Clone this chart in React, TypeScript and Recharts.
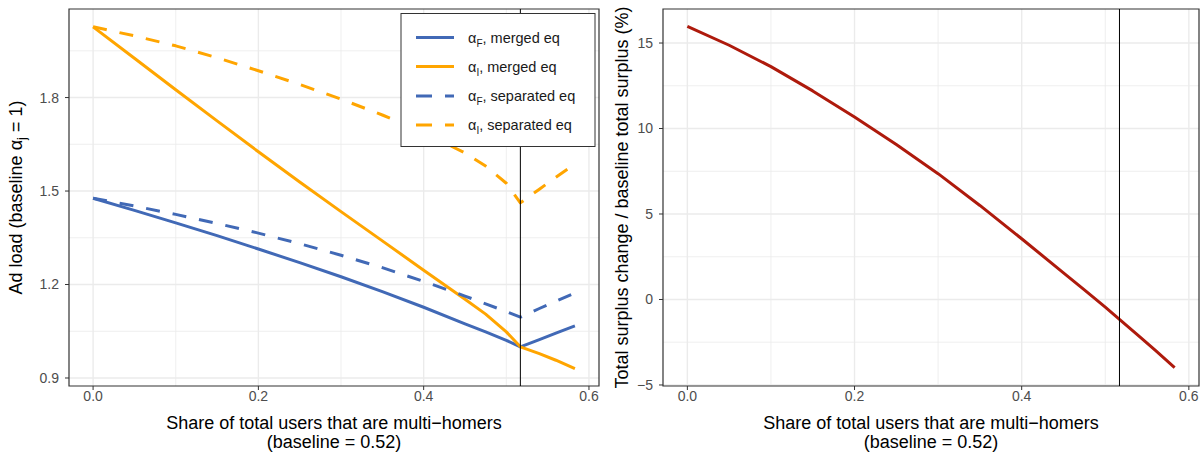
import React from "react";
import {
  LineChart,
  Line,
  XAxis,
  YAxis,
  CartesianGrid,
  ReferenceLine,
  ReferenceArea,
} from "recharts";

// Share of total users that are multi-homers
const shares = [0, 0.05, 0.1, 0.15, 0.2, 0.25, 0.3, 0.35, 0.4, 0.45, 0.475, 0.5, 0.517, 0.54, 0.56, 0.583];
const baselineShare = 0.517;

// Ad loads relative to baseline
const alphaFMerged = [1.477, 1.438, 1.398, 1.357, 1.314, 1.27, 1.225, 1.177, 1.127, 1.074, 1.048, 1.021, 1.0, 1.023, 1.044, 1.067];
const alphaIMerged = [2.027, 1.926, 1.825, 1.725, 1.626, 1.529, 1.434, 1.34, 1.246, 1.153, 1.105, 1.048, 1.0, 0.978, 0.957, 0.93];
const alphaFSeparated = [1.477, 1.452, 1.425, 1.396, 1.365, 1.331, 1.294, 1.254, 1.21, 1.163, 1.138, 1.113, 1.095, 1.123, 1.146, 1.173];
const alphaISeparated = [2.027, 1.998, 1.966, 1.928, 1.886, 1.842, 1.795, 1.744, 1.688, 1.622, 1.58, 1.525, 1.462, 1.506, 1.544, 1.587];

// Total surplus change relative to baseline total surplus (%)
const surplusChange = [15.97, 14.87, 13.62, 12.2, 10.67, 9.06, 7.36, 5.5, 3.55, 1.56, 0.56, -0.45, -1.16, -2.13, -2.98, -3.98];

// Axis ticks
const xTicks = [0, 0.2, 0.4, 0.6];
const xMinor = [0.1, 0.3, 0.5];
const adTicks = [0.9, 1.2, 1.5, 1.8];
const adMinor = [1.05, 1.35, 1.65, 1.95];
const surplusTicks = [-5, 0, 5, 10, 15];
const surplusMinor = [-2.5, 2.5, 7.5, 12.5];

// Legend entries
const seriesSubs = ["F", "I", "F", "I"];
const seriesLabels = [", merged eq", ", merged eq", ", separated eq", ", separated eq"];
const seriesKeys = ["aFm", "aIm", "aFs", "aIs"];

const BLUE = "#4169B6";
const ORANGE = "#FFA500";
const RED = "#AE1A0C";
const seriesColors = [BLUE, ORANGE, BLUE, ORANGE];
const seriesDashed = [false, false, true, true];
const DASH = "14 13";

const FONT = "'Liberation Sans', Arial, Helvetica, sans-serif";
const TICK_COLOR = "#4D4D4D";
const GRID = "#EBEBEB";
const BORDER = "#333333";

const adData = shares.map((x, i) => ({
  x,
  aFm: alphaFMerged[i],
  aIm: alphaIMerged[i],
  aFs: alphaFSeparated[i],
  aIs: alphaISeparated[i],
}));
const surplusData = shares.map((x, i) => ({ x, s: surplusChange[i] }));

const xDomain: [number, number] = [-0.02915, 0.61215];
const adDomain: [number, number] = [0.8743, 2.0842];
const surplusDomain: [number, number] = [-5.06, 16.99];

const fmt1 = (v: number) => v.toFixed(1);
const fmtInt = (v: number) => (v < 0 ? "\u2212" + Math.abs(v) : String(v));

const tickStyle = { fill: TICK_COLOR, fontSize: 14, fontFamily: FONT };

function XTitle({ cx }: { cx: number }) {
  return (
    <g fontFamily={FONT} fontSize={18} fill="#000" textAnchor="middle">
      <text x={cx} y={428.5}>Share of total users that are multi{"\u2212"}homers</text>
      <text x={cx} y={448}>(baseline = 0.52)</text>
    </g>
  );
}

function Legend() {
  const rows = [27.5, 56.5, 86, 115];
  return (
    <svg
      width={200}
      height={140}
      style={{ position: "absolute", left: 398, top: 10, overflow: "visible" }}
    >
      <rect x={3} y={3.5} width={194} height={133} fill="#fff" stroke={BORDER} strokeWidth={1} />
      {rows.map((ry, i) => (
        <g key={seriesKeys[i]}>
          <line
            x1={18}
            x2={56}
            y1={ry}
            y2={ry}
            stroke={seriesColors[i]}
            strokeWidth={3}
            strokeDasharray={seriesDashed[i] ? "16 13" : undefined}
          />
          <text x={70} y={ry + 5} fontFamily={FONT} fontSize={14.5} fill="#1A1A1A">
            α
            <tspan dy={4} fontSize={10}>{seriesSubs[i]}</tspan>
            <tspan dy={-4}>{seriesLabels[i]}</tspan>
          </text>
        </g>
      ))}
    </svg>
  );
}

export default function App() {
  return (
    <div
      style={{
        position: "absolute",
        left: 0,
        top: 0,
        width: 1203,
        height: 455,
        background: "#fff",
        overflow: "hidden",
      }}
    >
      {/* Left panel: ad loads */}
      <div style={{ position: "absolute", left: 0, top: 0 }}>
        <LineChart
          width={610}
          height={455}
          data={adData}
          margin={{ top: 9, right: 11, bottom: 0, left: 29 }}
        >
          <CartesianGrid
            stroke={GRID}
            strokeWidth={0.8}
            horizontalValues={adMinor}
            verticalValues={xMinor}
          />
          <CartesianGrid
            stroke={GRID}
            strokeWidth={1.4}
            horizontalValues={adTicks}
            verticalValues={xTicks}
          />
          <XAxis
            dataKey="x"
            type="number"
            domain={xDomain}
            allowDataOverflow
            ticks={xTicks}
            tickFormatter={fmt1}
            axisLine={false}
            tickLine={{ stroke: BORDER }}
            tickSize={4}
            tickMargin={1}
            height={69}
            tick={tickStyle}
            interval={0}
          />
          <YAxis
            type="number"
            domain={adDomain}
            allowDataOverflow
            ticks={adTicks}
            tickFormatter={fmt1}
            axisLine={false}
            tickLine={{ stroke: BORDER }}
            tickSize={4}
            tickMargin={6}
            width={40}
            tick={tickStyle}
            interval={0}
          />
          {seriesKeys.map((k, i) => (
            <Line
              key={k}
              dataKey={k}
              type="linear"
              stroke={seriesColors[i]}
              strokeWidth={3}
              strokeDasharray={seriesDashed[i] ? DASH : undefined}
              strokeLinejoin="round"
              dot={false}
              activeDot={false}
              isAnimationActive={false}
            />
          ))}
          <ReferenceLine x={baselineShare} stroke="#000" strokeWidth={1} />
          <ReferenceArea
            x1={xDomain[0]}
            x2={xDomain[1]}
            y1={adDomain[0]}
            y2={adDomain[1]}
            fill="none"
            stroke={BORDER}
            strokeWidth={1.2}
          />
          <XTitle cx={334} />
          <text
            transform="translate(22,197.5) rotate(-90)"
            textAnchor="middle"
            fontFamily={FONT}
            fontSize={18}
            fill="#000"
          >
            Ad load (baseline α
            <tspan dy={4} fontSize={13}>j</tspan>
            <tspan dy={-4}> = 1)</tspan>
          </text>
        </LineChart>
      </div>
      <Legend />

      {/* Right panel: total surplus */}
      <div style={{ position: "absolute", left: 605, top: 0 }}>
        <LineChart
          width={598}
          height={455}
          data={surplusData}
          margin={{ top: 9, right: 4, bottom: 0, left: 18 }}
        >
          <CartesianGrid
            stroke={GRID}
            strokeWidth={0.8}
            horizontalValues={surplusMinor}
            verticalValues={xMinor}
          />
          <CartesianGrid
            stroke={GRID}
            strokeWidth={1.4}
            horizontalValues={surplusTicks}
            verticalValues={xTicks}
          />
          <XAxis
            dataKey="x"
            type="number"
            domain={xDomain}
            allowDataOverflow
            ticks={xTicks}
            tickFormatter={fmt1}
            axisLine={false}
            tickLine={{ stroke: BORDER }}
            tickSize={4}
            tickMargin={1}
            height={69}
            tick={tickStyle}
            interval={0}
          />
          <YAxis
            type="number"
            domain={surplusDomain}
            allowDataOverflow
            ticks={surplusTicks}
            tickFormatter={fmtInt}
            axisLine={false}
            tickLine={{ stroke: BORDER }}
            tickSize={4}
            tickMargin={6}
            width={40}
            tick={tickStyle}
            interval={0}
          />
          <Line
            dataKey="s"
            type="linear"
            stroke={RED}
            strokeWidth={3}
            strokeLinejoin="round"
            dot={false}
            activeDot={false}
            isAnimationActive={false}
          />
          <ReferenceLine x={baselineShare} stroke="#000" strokeWidth={1} />
          <ReferenceArea
            x1={xDomain[0]}
            x2={xDomain[1]}
            y1={surplusDomain[0]}
            y2={surplusDomain[1]}
            fill="none"
            stroke={BORDER}
            strokeWidth={1.2}
          />
          <XTitle cx={326} />
          <text
            transform="translate(23,197.5) rotate(-90)"
            textAnchor="middle"
            fontFamily={FONT}
            fontSize={18}
            fill="#000"
          >
            Total surplus change / baseline total surplus (%)
          </text>
        </LineChart>
      </div>
    </div>
  );
}
